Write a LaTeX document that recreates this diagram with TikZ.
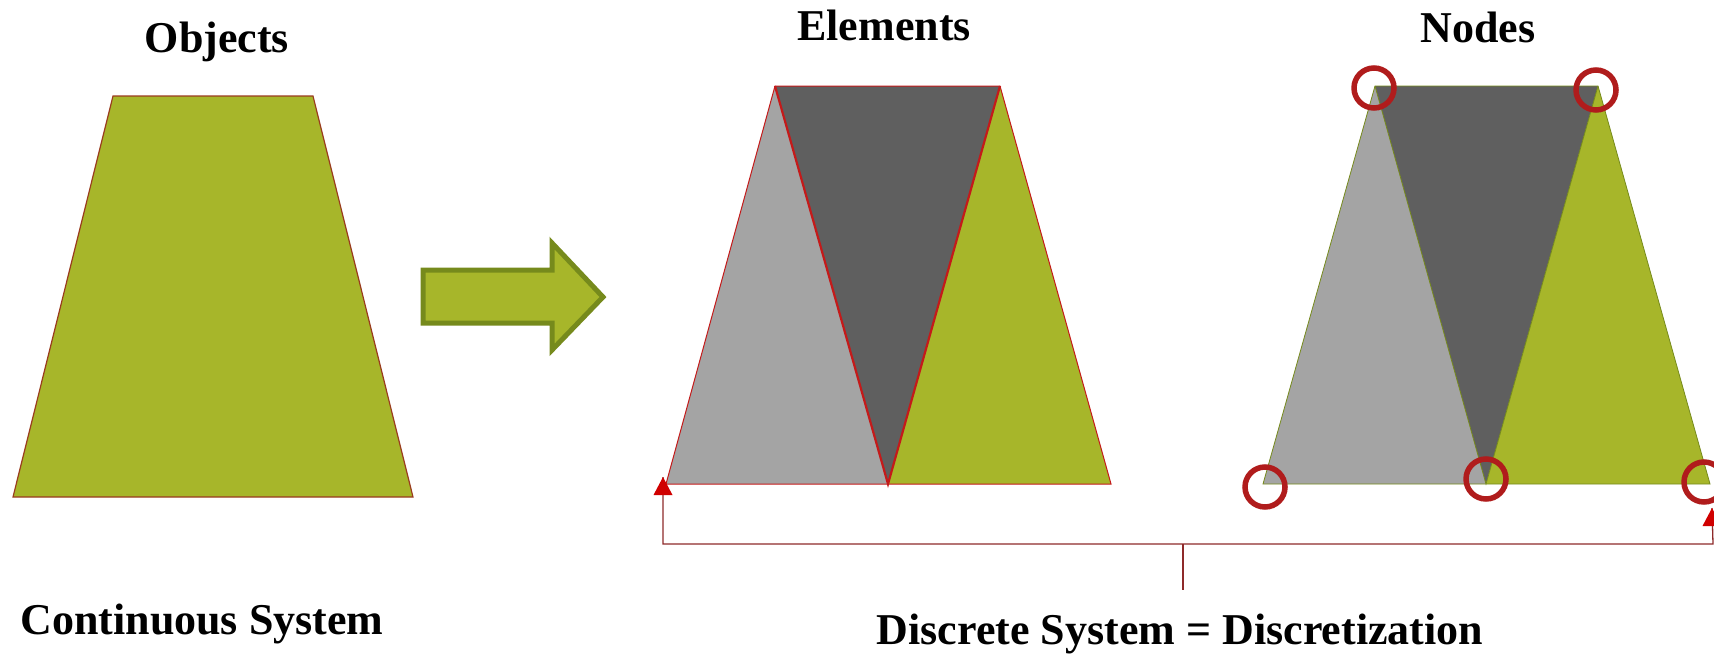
\documentclass[tikz,border=0pt]{standalone}
\usepackage{fontspec}
\setmainfont{Liberation Serif}
\definecolor{olivefill}{HTML}{A7B62A}
\definecolor{olivedark}{HTML}{768A1C}
\definecolor{lgray}{HTML}{A4A4A4}
\definecolor{dgray}{HTML}{5F5F5F}
\definecolor{redline}{HTML}{C41A1A}
\definecolor{brownline}{HTML}{9A3B1E}
\definecolor{circred}{HTML}{B01C1C}
\definecolor{bracket}{HTML}{8E2A2A}
\definecolor{headred}{HTML}{D00000}
\begin{document}
\begin{tikzpicture}[x=1pt,y=-1pt,
  title/.style={font=\fontsize{44}{50}\selectfont\bfseries, anchor=base, inner sep=0pt},
  elemedge/.style={draw=redline, line width=1pt},
  inneredge/.style={draw=redline, line width=2.2pt},
  nodeedge/.style={draw=olivedark, line width=0.8pt},
  nodecirc/.style={circle, draw=circred, line width=5.5pt, minimum size=40pt, inner sep=0pt},
  bracketline/.style={draw=bracket, line width=1.3pt},
  headfill/.style={fill=headred}
]
\useasboundingbox (0,0) rectangle (1714,654);

% Titles
\node[title] (tobj) at (217,52) {Objects};
\node[title] (telem) at (884,40) {Elements};
\node[title] (tnode) at (1478,42) {Nodes};
\node[title] (tcont) at (202,634) {Continuous System};
\node[title] (tdisc) at (1180,644) {Discrete System = Discretization};

% Objects trapezoid
\coordinate (o1) at (113,96);
\coordinate (o2) at (313,96);
\coordinate (o3) at (413,497);
\coordinate (o4) at (13,497);
\fill[olivefill] (o1) -- (o2) -- (o3) -- (o4) -- cycle;
\draw[brownline, line width=1.2pt] (o1) -- (o2) -- (o3) -- (o4) -- cycle;

% Block arrow
\coordinate (a1) at (423,270);
\coordinate (a2) at (552,270);
\coordinate (a3) at (552,243);
\coordinate (a4) at (603,297);
\coordinate (a5) at (552,350);
\coordinate (a6) at (552,323);
\coordinate (a7) at (423,323);
\filldraw[fill=olivefill, draw=olivedark, line width=5pt, line join=miter]
  (a1) -- (a2) -- (a3) -- (a4) -- (a5) -- (a6) -- (a7) -- cycle;

% Elements
\coordinate (e1) at (775,86);
\coordinate (e2) at (1000,86);
\coordinate (e3) at (1111,484);
\coordinate (e4) at (888,484);
\coordinate (e5) at (666,484);
\fill[lgray] (e5) -- (e1) -- (e4) -- cycle;
\fill[dgray] (e1) -- (e2) -- (e4) -- cycle;
\fill[olivefill] (e4) -- (e2) -- (e3) -- cycle;
\draw[elemedge] (e1) -- (e2) -- (e3) -- (e5) -- cycle;
\draw[inneredge] (e1) -- (e4) -- (e2);

% Nodes
\coordinate (n1) at (1375,86);
\coordinate (n2) at (1598,86);
\coordinate (n3) at (1710,484);
\coordinate (n4) at (1486,484);
\coordinate (n5) at (1263,484);
\fill[lgray] (n5) -- (n1) -- (n4) -- cycle;
\fill[dgray] (n1) -- (n2) -- (n4) -- cycle;
\fill[olivefill] (n4) -- (n2) -- (n3) -- cycle;
\draw[nodeedge] (n1) -- (n2) -- (n3) -- (n5) -- cycle;
\draw[nodeedge] (n1) -- (n4) -- (n2);

\node[nodecirc] (c1) at (1374,88) {};
\node[nodecirc] (c2) at (1596,90) {};
\node[nodecirc] (c3) at (1265,487) {};
\node[nodecirc] (c4) at (1486,479) {};
\node[nodecirc] (c5) at (1704,482) {};

% Bracket
\coordinate (bl) at (663,544);
\coordinate (br) at (1713,544);
\coordinate (bm) at (1183,544);
\coordinate (bt) at (1183,590);
\coordinate (al) at (663,477);
\coordinate (ar) at (1712,508);
\draw[bracketline] (al) -- (bl) -- (br) -- (ar);
\draw[bracketline] (bm) -- (bt);
\fill[headfill] (al) -- ++(-9.5,18) -- ++(19,0) -- cycle;
\fill[headfill] (ar) -- ++(-9.5,18) -- ++(19,0) -- cycle;
\end{tikzpicture}
\end{document}
